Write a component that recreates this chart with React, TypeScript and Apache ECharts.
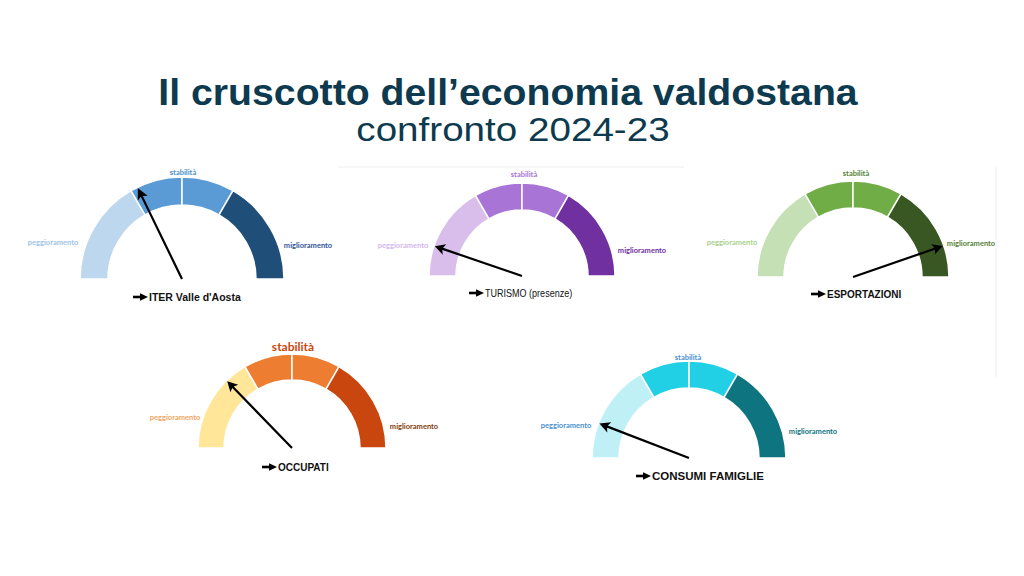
import React, { useEffect, useRef } from "react";
import * as echarts from "echarts";

// ---- data ----
const titleText = "Il cruscotto dell\u2019economia valdostana";
const subtitleText = "confronto 2024-23";
const gaugeNames = ["ITER Valle d'Aosta", "TURISMO (presenze)", "ESPORTAZIONI", "OCCUPATI", "CONSUMI FAMIGLIE"];
const gaugeValues = [35.6, 10.5, 89.4, 25.5, 11.7];
const zoneLabels = ["peggioramento", "stabilità", "miglioramento"];
const zoneShares = [33.33, 16.67, 16.67, 33.33];
const gaugeMax = 100;

// ---- layout & styles ----
type Layout = {
  cx: number; cy: number; r: number; R: number;
  colors: string[]; textColors: string[];
  stab: [number, number]; pegg: [number, number]; migl: [number, number];
  stabSize: number;
  capX: number; capY: number; capSize: number; capWeight: string; capScale: number;
};

const layouts: Layout[] = [
  {
    cx: 182, cy: 279, r: 74, R: 102,
    colors: ["#BDD7EE", "#5B9BD5", "#5B9BD5", "#1F4E79"],
    textColors: ["#9DC3E6", "#4A90C8", "#2F5597"],
    stab: [183, 172], pegg: [53, 242], migl: [308, 245], stabSize: 7.5,
    capX: 133, capY: 297, capSize: 10.5, capWeight: "bold", capScale: 1,
  },
  {
    cx: 522, cy: 276, r: 66, R: 93,
    colors: ["#D9BEEC", "#A874D6", "#A874D6", "#7030A0"],
    textColors: ["#D4B8EA", "#A874D6", "#7030A0"],
    stab: [524, 174], pegg: [403, 245], migl: [642, 250], stabSize: 7.5,
    capX: 469, capY: 293, capSize: 10.5, capWeight: "normal", capScale: 0.86,
  },
  {
    cx: 853, cy: 277, r: 69, R: 96,
    colors: ["#C5E0B4", "#70AD47", "#70AD47", "#385723"],
    textColors: ["#A9D18E", "#548235", "#548235"],
    stab: [856, 173], pegg: [732, 242], migl: [971, 243], stabSize: 7.5,
    capX: 811, capY: 294, capSize: 10, capWeight: "bold", capScale: 1,
  },
  {
    cx: 292, cy: 448, r: 68, R: 94,
    colors: ["#FFE699", "#ED7D31", "#ED7D31", "#C9470F"],
    textColors: ["#F4A460", "#C9470F", "#843C0C"],
    stab: [293, 346], pegg: [175, 417], migl: [414, 426], stabSize: 12,
    capX: 262, capY: 467, capSize: 10, capWeight: "bold", capScale: 1,
  },
  {
    cx: 689, cy: 458, r: 70, R: 97,
    colors: ["#BFF0F5", "#22D0E6", "#22D0E6", "#0E747F"],
    textColors: ["#4A8FD0", "#4A8FD0", "#0E747F"],
    stab: [688, 357], pegg: [566, 425], migl: [813, 431], stabSize: 7.5,
    capX: 636, capY: 476, capSize: 11.5, capWeight: "bold", capScale: 1,
  },
];

const smallFont = "Lato, 'Open Sans', sans-serif";
const capFont = "'Liberation Sans', Arial, sans-serif";

function textEl(text: string, x: number, y: number, fill: string, size: number, weight: string, family: string, align = "center", scaleX = 1) {
  return {
    type: "text", x, y, scaleX, silent: true,
    style: {
      text, fill, fontSize: size, fontWeight: weight, fontFamily: family,
      align, verticalAlign: "middle", textAlign: align, textVerticalAlign: "middle",
    },
  };
}

export default function App() {
  const ref = useRef<HTMLDivElement>(null);
  useEffect(() => {
    if (!ref.current) return;
    const chart = echarts.init(ref.current, null, { renderer: "svg" });

    const series: any[] = [];
    const graphics: any[] = [];

    graphics.push({
      type: "line", silent: true,
      shape: { x1: 338, y1: 167, x2: 684, y2: 167 },
      style: { stroke: "#EEEEEE", lineWidth: 1 },
    });
    graphics.push({
      type: "line", silent: true,
      shape: { x1: 996, y1: 167, x2: 996, y2: 377 },
      style: { stroke: "#EEEEEE", lineWidth: 1 },
    });

    graphics.push(textEl(titleText, 508, 92, "#0D3A4E", 37, "bold", capFont, "center", 1.06));
    graphics.push(textEl(subtitleText, 513, 130, "#0D3A4E", 33, "normal", capFont, "center", 1.17));

    layouts.forEach((L, i) => {
      const total = zoneShares.reduce((a, b) => a + b, 0);
      series.push({
        type: "pie",
        z: 1,
        center: [L.cx, L.cy],
        radius: [L.r, L.R],
        startAngle: 180,
        clockwise: true,
        silent: true,
        label: { show: false },
        labelLine: { show: false },
        emphasis: { disabled: true },
        data: [
          ...zoneShares.map((v, k) => ({
            value: v,
            itemStyle: { color: L.colors[k], borderColor: "#FFFFFF", borderWidth: 1.5 },
          })),
          { value: total, itemStyle: { color: "rgba(0,0,0,0)", borderWidth: 0 } },
        ],
      });
      series.push({
        type: "gauge",
        z: 10,
        zlevel: 0,
        center: [L.cx, L.cy],
        radius: L.R,
        startAngle: 180,
        endAngle: 0,
        min: 0,
        max: gaugeMax,
        silent: true,
        axisLine: { show: false },
        splitLine: { show: false },
        axisTick: { show: false },
        axisLabel: { show: false },
        anchor: { show: false },
        title: { show: false },
        detail: { show: false },
        pointer: {
          icon: "path://M50,0 L100,11 L60,9 L60,100 L40,100 L40,9 L0,11 Z",
          length: "99%",
          width: 11,
          keepAspect: false,
          offsetCenter: [0, 0],
          itemStyle: { color: "#000000" },
        },
        data: [{ value: gaugeValues[i], name: gaugeNames[i] }],
      });

      graphics.push(textEl(zoneLabels[0], L.pegg[0], L.pegg[1], L.textColors[0], 7.5, "bold", smallFont));
      graphics.push(textEl(zoneLabels[1], L.stab[0], L.stab[1], L.textColors[1], L.stabSize, "bold", smallFont));
      graphics.push(textEl(zoneLabels[2], L.migl[0], L.migl[1], L.textColors[2], 7.5, "bold", smallFont));

      const x0 = L.capX, y0 = L.capY;
      graphics.push({
        type: "rect", silent: true,
        shape: { x: x0, y: y0 - 1.3, width: 8.5, height: 2.6 },
        style: { fill: "#000000" },
      });
      graphics.push({
        type: "polygon", silent: true,
        shape: { points: [[x0 + 7, y0 - 3.8], [x0 + 15, y0], [x0 + 7, y0 + 3.8]] },
        style: { fill: "#000000" },
      });
      graphics.push(textEl(gaugeNames[i], x0 + 16, y0, "#111111", L.capSize, L.capWeight, capFont, "left", L.capScale));
    });

    chart.setOption({
      animation: false,
      backgroundColor: "#FFFFFF",
      series,
      graphic: { elements: graphics },
    });
    return () => chart.dispose();
  }, []);

  return (
    <div
      ref={ref}
      style={{ position: "fixed", left: 0, top: 0, width: 1024, height: 576 }}
    />
  );
}
